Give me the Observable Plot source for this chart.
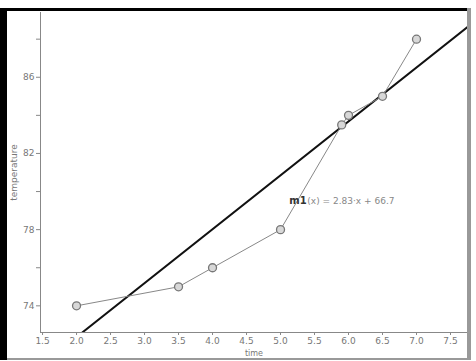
<!DOCTYPE html>
<html>
<head>
<meta charset="utf-8">
<script src="https://cdn.jsdelivr.net/npm/d3@7"></script>
<script src="https://cdn.jsdelivr.net/npm/@observablehq/plot@0.6"></script>
<style>
  html, body { margin: 0; padding: 0; background: #fff; }
  #wrap { position: relative; width: 476px; height: 361px; overflow: hidden; }
  .bd { position: absolute; }
</style>
</head>
<body>
<div id="wrap"></div>
<script>
// Data
const times = [2.0, 3.5, 4.0, 5.0, 5.9, 6.0, 6.5, 7.0];
const temperatures = [74, 75, 76, 78, 83.5, 84, 85, 88];
const xTicks = [1.5, 2.0, 2.5, 3.0, 3.5, 4.0, 4.5, 5.0, 5.5, 6.0, 6.5, 7.0, 7.5];
const yTicksLabeled = [74, 78, 82, 86];
const yTicksMinor = [76, 80, 84, 88];
const fitSlope = 2.83;
const fitIntercept = 66.7;
const fitLabel = "(x) = 2.83·x + 66.7";
const fitName = "m1";

const xDomain = [1.47, 7.75];
const yDomain = [72.6, 89.4];

const points = times.map((t, i) => ({time: t, temperature: temperatures[i]}));
const fitLine = xDomain.map(x => ({time: x, temperature: fitSlope * x + fitIntercept}));
const labelPos = [{time: 5.13, temperature: 79.5}];

const chart = Plot.plot({
  width: 476,
  height: 361,
  marginLeft: 40,
  marginRight: 9,
  marginTop: 12,
  marginBottom: 29,
  style: {fontFamily: "DejaVu Sans, sans-serif", fontSize: "9px", color: "#777", background: "white"},
  x: {domain: xDomain},
  y: {domain: yDomain},
  marks: [
    Plot.ruleX([xDomain[0]], {stroke: "#888", strokeWidth: 1}),
    Plot.ruleY([yDomain[0]], {stroke: "#888", strokeWidth: 1}),
    Plot.axisX({ticks: xTicks, tickFormat: d3.format(".1f"), tickSize: 3, tickPadding: 2, stroke: "#888", label: null}),
    Plot.axisX({ticks: [], label: "time", labelAnchor: "center", labelOffset: 23, labelArrow: "none", fontSize: 8}),
    Plot.axisY({ticks: yTicksLabeled, tickSize: 4, tickPadding: 2, stroke: "#888",
      label: "temperature", labelAnchor: "center", labelOffset: 30, labelArrow: "none"}),
    Plot.axisY({ticks: yTicksMinor, tickSize: 4, tickFormat: () => "", stroke: "#888", label: null}),
    Plot.line(fitLine, {x: "time", y: "temperature", stroke: "#111", strokeWidth: 2, clip: true}),
    Plot.line(points, {x: "time", y: "temperature", stroke: "#888", strokeWidth: 1}),
    Plot.dot(points, {x: "time", y: "temperature", r: 4, stroke: "#777", strokeWidth: 1.3, fill: "#d8d8d8"}),
    Plot.text(labelPos, {x: "time", y: "temperature", text: () => fitName, textAnchor: "start",
      fontWeight: "bold", fill: "#333", fontSize: 10}),
    Plot.text(labelPos, {x: "time", y: "temperature", text: () => fitLabel, textAnchor: "start",
      dx: 18, fill: "#888", fontSize: 9})
  ]
});

const wrap = document.getElementById("wrap");
wrap.appendChild(chart);
// decorative screen frame
const borders = [
  {left: 0, top: 0, width: 7, height: 361, bg: "#000"},
  {left: 0, top: 8, width: 476, height: 3, bg: "#000"},
  {left: 0, top: 0, width: 476, height: 8, bg: "#fff"},
  {left: 467, top: 8, width: 4, height: 353, bg: "#999"},
  {left: 471, top: 0, width: 5, height: 361, bg: "#fff"},
  {left: 7, top: 358, width: 464, height: 2, bg: "#999"},
  {left: 0, top: 360, width: 476, height: 1, bg: "#fff"}
];
for (const b of borders) {
  const d = document.createElement("div");
  d.className = "bd";
  Object.assign(d.style, {left: b.left + "px", top: b.top + "px", width: b.width + "px", height: b.height + "px", background: b.bg});
  wrap.appendChild(d);
}
</script>
</body>
</html>
